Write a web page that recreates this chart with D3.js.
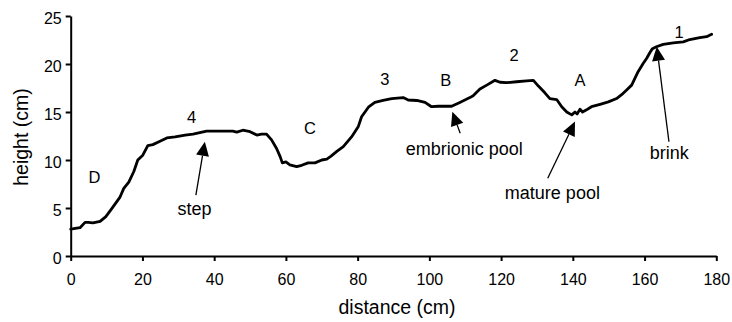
<!DOCTYPE html>
<html>
<head>
<meta charset="utf-8">
<title>profile</title>
<script src="https://cdn.jsdelivr.net/npm/d3@7/dist/d3.min.js"></script>
<style>
  body { margin: 0; background: #fff; }
  text { font-family: "Liberation Sans", Arial, Helvetica, sans-serif; fill: #000; }
</style>
</head>
<body>
<script>
// distance (cm) and height (cm)
var distance = [0, 2.6, 4.0, 4.9, 6.2, 8.2, 9.8, 11.4, 13.7, 14.8, 16.2, 17.6, 18.7, 20.1, 21.5, 22.9,
  24.9, 26.8, 29.1, 31.9, 34.1, 36.0, 37.9, 41.6, 45.2, 46.3, 48.0, 50.0, 51.9, 53.2, 54.6, 56.0,
  57.4, 58.4, 59.0, 60.0, 61.1, 63.0, 64.4, 66.2, 68.1, 70.0, 71.4, 72.6, 74.2, 76.0, 78.3, 80.2,
  81.1, 83.0, 84.8, 87.1, 89.5, 92.7, 94.1, 96.5, 98.8, 100.6, 102.5, 106.2, 108.5, 111.3, 112.2,
  114.1, 116.0, 118.3, 119.7, 121.5, 124.3, 127.1, 129.0, 130.4, 132.2, 133.6, 135.5, 136.9, 138.3,
  139.7, 140.6, 141.2, 142.0, 142.7, 143.7, 145.2, 147.6, 149.9, 152.2, 153.6, 155.0, 156.4, 157.3,
  158.2, 159.6, 160.6, 161.5, 162.2, 163.3, 165.2, 168.0, 170.8, 172.6, 175.4, 177.3, 178.7];
var height = [2.8, 2.95, 3.5, 3.5, 3.45, 3.6, 4.1, 4.9, 6.1, 7.05, 7.7, 8.8, 10.0, 10.5, 11.5, 11.6,
  11.95, 12.3, 12.4, 12.6, 12.7, 12.85, 13.0, 13.0, 13.0, 12.9, 13.1, 12.95, 12.6, 12.7, 12.7, 12.1,
  11.2, 10.35, 9.7, 9.8, 9.5, 9.3, 9.45, 9.7, 9.7, 10.0, 10.1, 10.4, 10.9, 11.4, 12.4, 13.5,
  14.5, 15.5, 16.0, 16.2, 16.4, 16.5, 16.25, 16.2, 16.0, 15.55, 15.6, 15.6, 16.0, 16.5, 16.7,
  17.4, 17.8, 18.3, 18.1, 18.05, 18.15, 18.25, 18.3, 17.7, 17.0, 16.4, 16.3, 15.55, 15.0,
  14.7, 15.0, 14.8, 15.3, 15.0, 15.2, 15.55, 15.8, 16.05, 16.4, 16.8, 17.3, 17.8, 18.5,
  19.2, 20.05, 20.6, 21.2, 21.6, 21.8, 22.05, 22.2, 22.3, 22.55, 22.75, 22.85, 23.1];

var xTicks = [0, 20, 40, 60, 80, 100, 120, 140, 160, 180];
var yTicks = [0, 5, 10, 15, 20, 25];

// zone labels [x, y, text]
var zones = [[6.6, 8.26, "D"], [33.7, 14.45, "4"], [66.7, 13.3, "C"], [87.6, 18.44, "3"],
  [104.6, 18.33, "B"], [123.6, 20.94, "2"], [142.0, 18.33, "A"], [169.6, 23.3, "1"]];
// feature notes [x, y, text]
var notes = [[34.5, 4.9, "step"], [109.7, 11.15, "embrionic pool"],
  [134.3, 6.64, "mature pool"], [166.9, 10.73, "brink"]];
// arrows [tailX, tailY, tipX, tipY]
var arrows = [[34.9, 6.35, 37.4, 11.9], [108.6, 12.78, 106.4, 15.03],
  [133.0, 8.1, 140.6, 14.0], [166.8, 11.9, 163.4, 21.8]];

var W = 732, H = 322;
var svg = d3.select("body").append("svg").attr("width", W).attr("height", H);

var x = d3.scaleLinear().domain([0, 180]).range([70.7, 716.3]);
var y = d3.scaleLinear().domain([0, 25]).range([256, 16]);

var xAxis = svg.append("g").attr("transform", "translate(0,256)")
  .call(d3.axisBottom(x).tickValues(xTicks).tickSize(5).tickPadding(13).tickSizeOuter(0));
var yAxis = svg.append("g").attr("transform", "translate(70.7,0)")
  .call(d3.axisLeft(y).tickValues(yTicks).tickSize(5).tickPadding(4).tickSizeOuter(0));

[xAxis, yAxis].forEach(function (g) {
  g.selectAll("path, line").attr("stroke", "#000").attr("stroke-width", 2);
  g.selectAll("text").style("font-size", "16px").attr("fill", "#000");
});
yAxis.selectAll("text").attr("dy", "0.45em");

svg.append("text").attr("x", 397).attr("y", 314).attr("text-anchor", "middle")
  .style("font-size", "19.5px").text("distance (cm)");
svg.append("text").attr("transform", "translate(28,137) rotate(-90)").attr("text-anchor", "middle")
  .style("font-size", "19.5px").text("height (cm)");

var pts = distance.map(function (d, i) { return [d, height[i]]; });
var line = d3.line().x(function (d) { return x(d[0]); }).y(function (d) { return y(d[1]); });
svg.append("path").datum(pts).attr("d", line)
  .attr("fill", "none").attr("stroke", "#000").attr("stroke-width", 2.8)
  .attr("stroke-linejoin", "round").attr("stroke-linecap", "round");

svg.selectAll(".zone").data(zones).enter().append("text")
  .attr("x", function (d) { return x(d[0]); }).attr("y", function (d) { return y(d[1]); })
  .attr("dy", "0.36em").attr("text-anchor", "middle").style("font-size", "16.5px")
  .text(function (d) { return d[2]; });

svg.selectAll(".note").data(notes).enter().append("text")
  .attr("x", function (d) { return x(d[0]); }).attr("y", function (d) { return y(d[1]); })
  .attr("dy", "0.36em").attr("text-anchor", "middle").style("font-size", "18px")
  .text(function (d) { return d[2]; });

// arrows: thin shaft plus filled head
arrows.forEach(function (a) {
  var x0 = x(a[0]), y0 = y(a[1]), x1 = x(a[2]), y1 = y(a[3]);
  var dx = x1 - x0, dy = y1 - y0, len = Math.sqrt(dx * dx + dy * dy);
  var ux = dx / len, uy = dy / len, hl = 14, hw = 6.5;
  var bx = x1 - ux * hl, by = y1 - uy * hl;
  svg.append("line").attr("x1", x0).attr("y1", y0).attr("x2", bx).attr("y2", by)
    .attr("stroke", "#000").attr("stroke-width", 1.3);
  svg.append("path")
    .attr("d", "M" + x1 + "," + y1 + "L" + (bx - uy * hw) + "," + (by + ux * hw) +
      "L" + (bx + uy * hw) + "," + (by - ux * hw) + "Z")
    .attr("fill", "#000");
});
</script>
</body>
</html>
